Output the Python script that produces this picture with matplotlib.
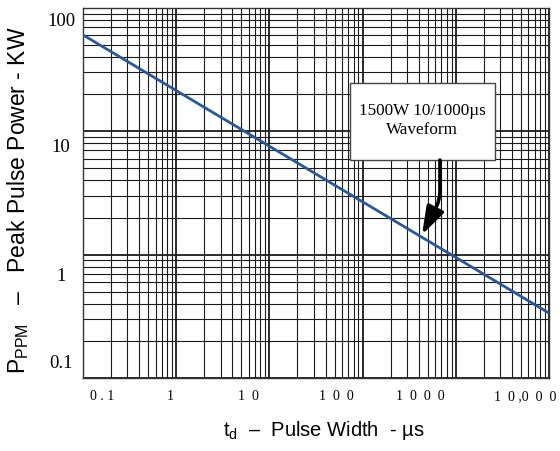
import matplotlib
matplotlib.use('Agg')
import matplotlib.pyplot as plt
from matplotlib.patches import Rectangle

plt.rcParams['mathtext.fontset'] = 'custom'
plt.rcParams['mathtext.rm'] = 'Liberation Sans'
plt.rcParams['mathtext.it'] = 'Liberation Sans:italic'

# pulse rating curve
pulse_width_us = [0.1, 10000]
peak_power_kw = [60.5, 0.336]

x_ticks = [0.1, 1, 10, 100, 1000, 10000]
x_tick_labels = ['0 . 1', '1', '1  0', '1  0  0', '1  0  0  0', '1  0 ,0  0  0']
y_ticks = [0.1, 1, 10, 100]
y_tick_labels = ['0.1', '1', '10', '100']

waveform_text = '1500W 10/1000\u00b5s\nWaveform'
arrow_tip = (434, 1.45)   # (us, kW) point on the curve

fig = plt.figure(figsize=(5.6, 4.51), dpi=100)
ax = fig.add_axes([83 / 560, 1 - 378 / 451, 466 / 560, 370 / 451])

ax.set_xscale('log')
ax.set_yscale('log')
ax.set_xlim(0.1, 10000)
ax.set_ylim(0.1, 100)

ax.grid(True, which='minor', color='#1a1a1a', linewidth=0.8)
ax.grid(True, which='major', color='#1a1a1a', linewidth=1.3)
ax.set_xticks(x_ticks)
ax.set_yticks(y_ticks)
ax.tick_params(which='both', length=0, labelbottom=False, labelleft=False)
for s in ax.spines.values():
    s.set_color('#333333')
    s.set_linewidth(1.0)

ax.plot(pulse_width_us, peak_power_kw, color='#2b5793', linewidth=2.0, zorder=3)

# tick labels sit a bit off the decade lines in the original sheet
x_shift = [19, -6, -21, -26, -35, -24]
for val, lab, dx in zip(x_ticks, x_tick_labels, x_shift):
    ax.annotate(lab, xy=(val, 0), xycoords=('data', 'axes fraction'),
                xytext=(dx, -19), textcoords='offset pixels',
                ha='center', va='center', fontsize=10,
                family='Liberation Serif', annotation_clip=False)

y_shift = [15, -22, -16, -13]
for val, lab, dy in zip(y_ticks, y_tick_labels, y_shift):
    ax.annotate(lab, xy=(0, val), xycoords=('axes fraction', 'data'),
                xytext=(-22, dy), textcoords='offset pixels',
                ha='center', va='center', fontsize=13.5,
                family='Liberation Serif', annotation_clip=False)

ax.set_xlabel('$\\mathrm{t}_{\\mathrm{d}}$  \u2013  Pulse Width  - \u00b5s',
              family='Liberation Sans', fontsize=14.5)
ax.xaxis.set_label_coords(0.517, -0.143)
ax.xaxis.label.set_va('center')

ax.set_ylabel('$\\mathrm{P}_{\\mathrm{PPM}}$   \u2013   Peak Pulse Power - KW',
              family='Liberation Sans', fontsize=16.5)
ax.yaxis.set_label_coords(-0.139, 0.481)
ax.yaxis.label.set_va('center')

# annotation box with arrow
box = Rectangle((0.573, 0.589), 0.311, 0.208, transform=ax.transAxes,
                facecolor='white', edgecolor='#444444', linewidth=1.0, zorder=4)
ax.add_patch(box)
ax.text(0.728, 0.696, waveform_text, transform=ax.transAxes, ha='center', va='center',
        family='Liberation Serif', fontsize=12.3, linespacing=1.25, zorder=5)

ax.annotate('', xy=arrow_tip, xycoords='data',
            xytext=(0.766, 0.589), textcoords='axes fraction',
            arrowprops=dict(arrowstyle='-|>,head_length=0.85,head_width=0.28',
                            mutation_scale=20, color='black', linewidth=2.6,
                            shrinkA=0, shrinkB=0,
                            connectionstyle='angle,angleA=90,angleB=63,rad=8'),
            zorder=5)

fig.savefig('out.png', dpi=100)
